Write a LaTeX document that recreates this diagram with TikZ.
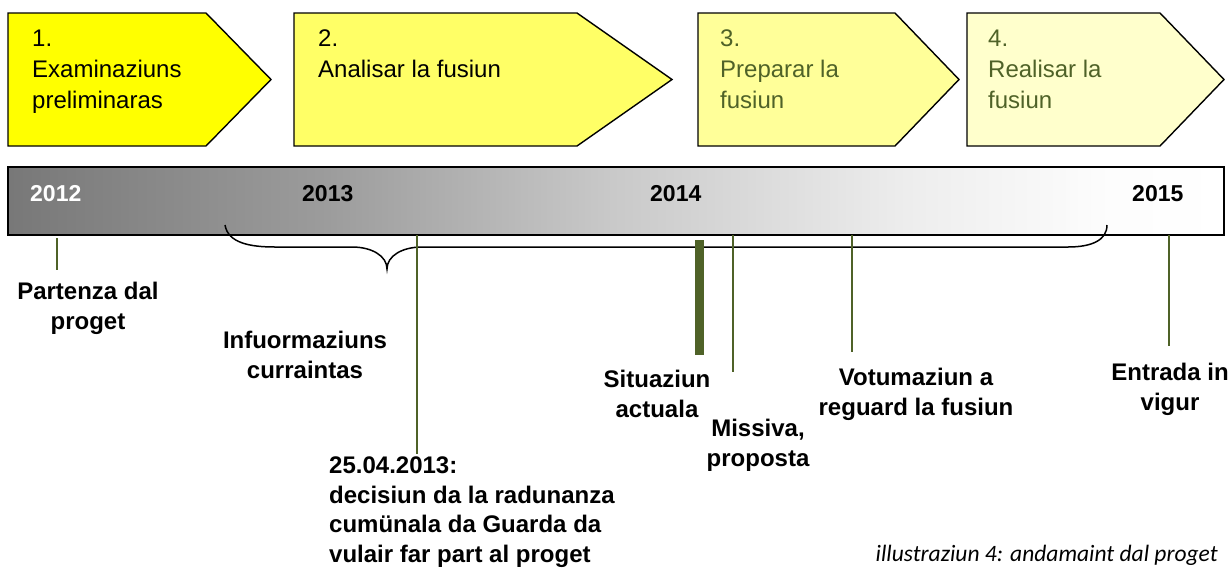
\documentclass[tikz,border=0pt]{standalone}
\usepackage{fontspec}
\setmainfont{Liberation Sans}
\newfontfamily\capfont{Carlito}
\definecolor{olivetxt}{RGB}{79,98,40}
\definecolor{ph1}{HTML}{FFFF00}
\definecolor{ph2}{HTML}{FFFF66}
\definecolor{ph3}{HTML}{FFFF99}
\definecolor{ph4}{HTML}{FFFFCC}
\definecolor{ga}{gray}{0.47}
\definecolor{gb}{gray}{0.61}
\definecolor{gc}{gray}{0.79}
\definecolor{gd}{gray}{0.93}
\definecolor{ge}{gray}{0.99}
\pgfdeclarehorizontalshading{barshade}{100bp}{color(0bp)=(ga); color(25bp)=(ga); color(38bp)=(gb); color(50bp)=(gc); color(62bp)=(gd); color(70bp)=(ge); color(75bp)=(white); color(100bp)=(white)}
\tikzset{
  phase/.style={draw=black, line width=1.4pt, line join=miter},
  phasetext/.style={anchor=north west, inner sep=0pt, align=left, font=\fontsize{24}{31}\selectfont},
  year/.style={anchor=base west, inner sep=0pt, font=\bfseries\fontsize{23}{28}\selectfont},
  lbl/.style={anchor=north, inner sep=0pt, align=center, font=\bfseries\fontsize{24}{29.5}\selectfont},
  tick/.style={draw=olivetxt, line width=2.6pt},
  thicktick/.style={draw=olivetxt, line width=9pt},
  brace/.style={draw=black, line width=1.5pt}
}
\begin{document}
\begin{tikzpicture}[x=1pt,y=-1pt]
\useasboundingbox (0,0) rectangle (1232,571);
% phases
\draw[phase, fill=ph1] (8,13) -- (206,13) -- (271,79.5) -- (206,146) -- (8,146) -- cycle;
\draw[phase, fill=ph2] (294,13) -- (577,13) -- (672,79.5) -- (577,146) -- (294,146) -- cycle;
\draw[phase, fill=ph3] (698,13) -- (895,13) -- (959,79.5) -- (895,146) -- (698,146) -- cycle;
\draw[phase, fill=ph4] (967,13) -- (1160,13) -- (1224,79.5) -- (1160,146) -- (967,146) -- cycle;
\node[phasetext] (p1) at (32,30) {1.\\Examinaziuns\\preliminaras};
\node[phasetext] (p2) at (318,30) {2.\\Analisar la fusiun};
\node[phasetext, text=olivetxt] (p3) at (720,30) {3.\\Preparar la\\fusiun};
\node[phasetext, text=olivetxt] (p4) at (988,30) {4.\\Realisar la\\fusiun};
% timeline bar
\path[draw=black, line width=1.5pt, shading=barshade] (8,167) rectangle (1224,235);
\node[year, text=white] (y2012) at (30,201) {2012};
\node[year] (y2013) at (302,201) {2013};
\node[year] (y2014) at (650,201) {2014};
\node[year] (y2015) at (1132,201) {2015};
% brace
\draw[brace] (225,225) .. controls (228,243) and (250,247) .. (275,247) -- (352,247)
  .. controls (372,247) and (387,256) .. (387,269)
  .. controls (387,256) and (402,247) .. (422,247) -- (1068,247)
  .. controls (1092,247) and (1107,240) .. (1107,225);
% labels
\node[lbl] (l1) at (88,282) {Partenza dal\\proget};
\node[lbl] (l2) at (305,331) {Infuormaziuns\\curraintas};
\node[lbl, anchor=north west, align=left] (l3) at (329,457) {25.04.2013:\\decisiun da la radunanza\\cumünala da Guarda da\\vulair far part al proget};
\node[lbl] (l4) at (657,370) {Situaziun\\actuala};
\node[lbl] (l5) at (758,419) {Missiva,\\proposta};
\node[lbl] (l6) at (916,368) {Votumaziun a\\reguard la fusiun};
\node[lbl] (l7) at (1170,363) {Entrada in\\vigur};
% ticks
\coordinate (a1) at (57,238);  \coordinate (b1) at (57,270);
\coordinate (a3) at (417,235); \coordinate (b3) at (417,454);
\coordinate (a4) at (699.5,240); \coordinate (b4) at (699.5,355);
\coordinate (a5) at (733,235); \coordinate (b5) at (733,372);
\coordinate (a6) at (852,235); \coordinate (b6) at (852,352);
\coordinate (a7) at (1169,235); \coordinate (b7) at (1169,346);
\draw[tick] (a1) -- (b1);
\draw[tick] (a3) -- (b3);
\draw[thicktick] (a4) -- (b4);
\draw[tick] (a5) -- (b5);
\draw[tick] (a6) -- (b6);
\draw[tick] (a7) -- (b7);
% caption
\node[anchor=base east, inner sep=0pt, font=\capfont\itshape\fontsize{23.5}{28}\selectfont] (cap) at (1218,561) {illustraziun 4: andamaint dal proget};
\end{tikzpicture}
\end{document}
